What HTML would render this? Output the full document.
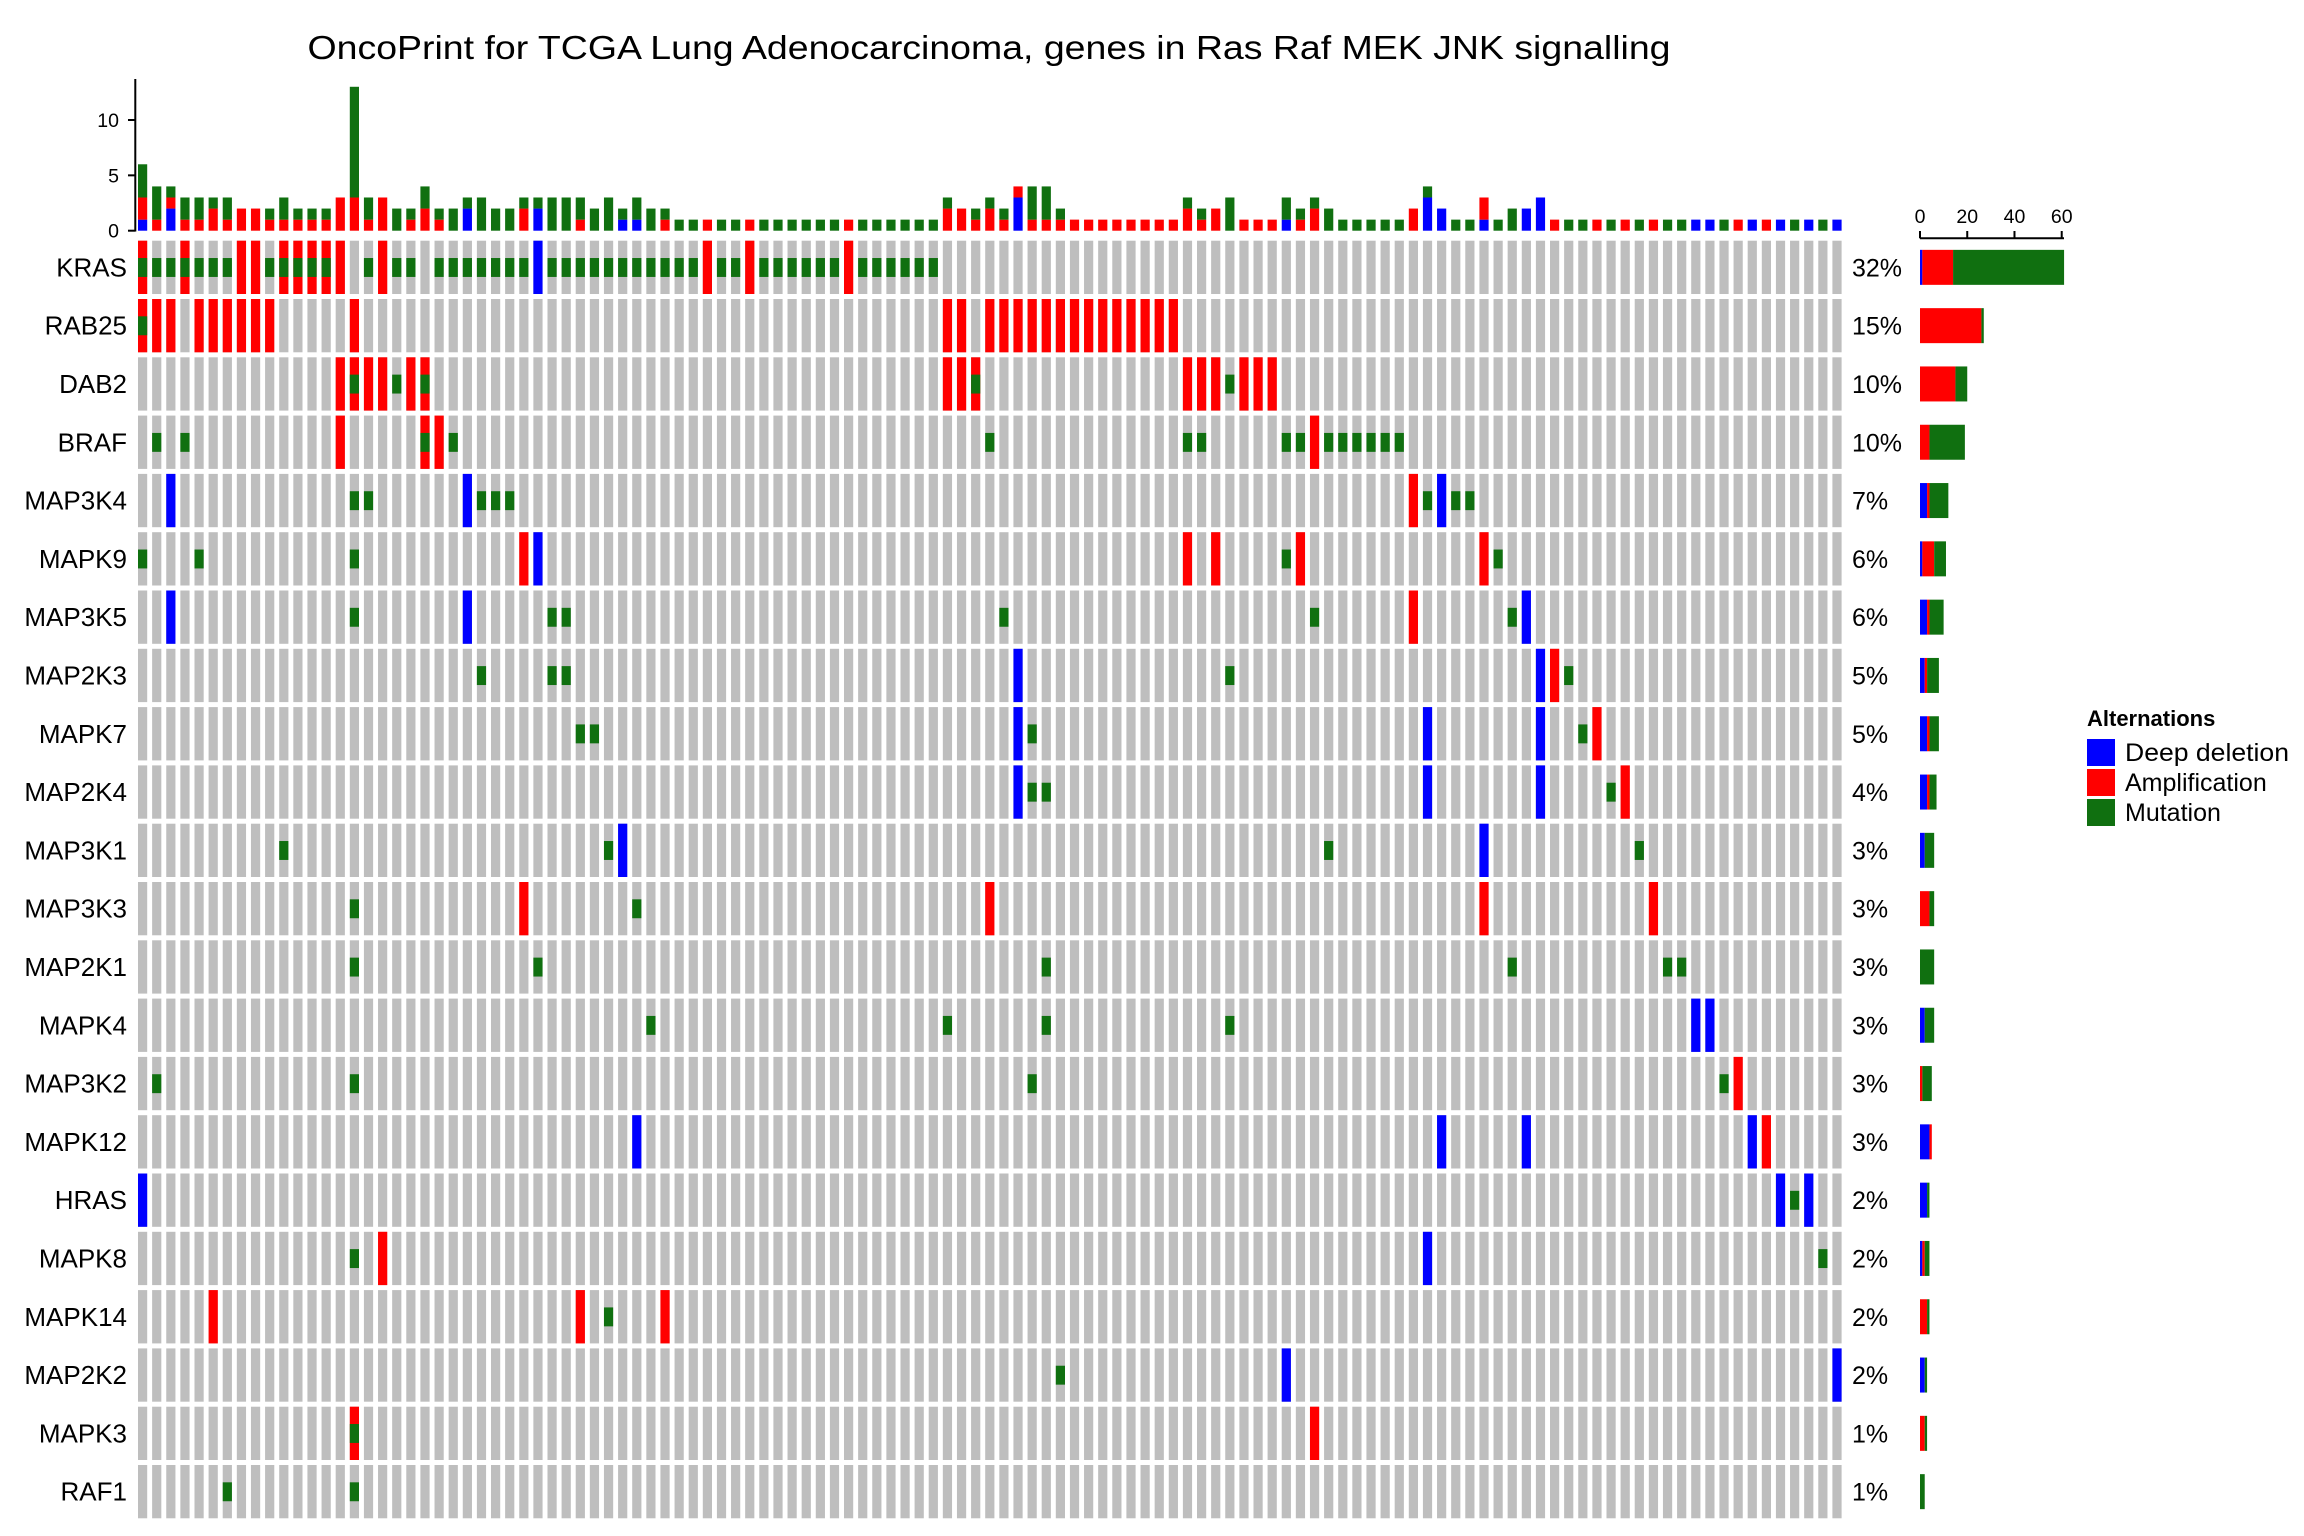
<!DOCTYPE html>
<html><head><meta charset="utf-8">
<style>
html,body{margin:0;padding:0;background:#fff;}
svg{display:block;font-family:"Liberation Sans",Arial,sans-serif;}
</style></head>
<body>
<svg id="c" width="2304" height="1536" viewBox="0 0 2304 1536" xmlns="http://www.w3.org/2000/svg">
<rect width="2304" height="1536" fill="#fff"/>
<text x="989" y="59" font-size="33" text-anchor="middle" textLength="1363" lengthAdjust="spacingAndGlyphs" fill="#000">OncoPrint for TCGA Lung Adenocarcinoma, genes in Ras Raf MEK JNK signalling</text>
<g id="g"></g>
</svg>
<script>
function R(a,b){var r=[];for(var i=a;i<=b;i++)r.push(i);return r;}
var genes=[
["KRAS","32%",{A:[0,3,7,8,10,11,12,13,14,17,40,43,50],D:[28],M:[].concat(R(0,6),R(9,13),[16,18,19],R(21,27),R(29,39),[41,42],R(44,49),R(51,56))}],
["RAB25","15%",{A:[0,1,2].concat(R(4,9),[15,57,58],R(60,73)),D:[],M:[0]}],
["DAB2","10%",{A:[14,15,16,17,19,20,57,58,59,74,75,76,78,79,80],D:[],M:[15,18,20,59,77]}],
["BRAF","10%",{A:[14,20,21,83],D:[],M:[1,3,20,22,60,74,75,81,82].concat(R(84,89))}],
["MAP3K4","7%",{A:[90],D:[2,23,92],M:[15,16,24,25,26,91,93,94]}],
["MAPK9","6%",{A:[27,74,76,82,95],D:[28],M:[0,4,15,81,96]}],
["MAP3K5","6%",{A:[90],D:[2,23,98],M:[15,29,30,61,83,97]}],
["MAP2K3","5%",{A:[100],D:[62,99],M:[24,29,30,77,101]}],
["MAPK7","5%",{A:[103],D:[62,91,99],M:[31,32,63,102]}],
["MAP2K4","4%",{A:[105],D:[62,91,99],M:[63,64,104]}],
["MAP3K1","3%",{A:[],D:[34,95],M:[10,33,84,106]}],
["MAP3K3","3%",{A:[27,60,95,107],D:[],M:[15,35]}],
["MAP2K1","3%",{A:[],D:[],M:[15,28,64,97,108,109]}],
["MAPK4","3%",{A:[],D:[110,111],M:[36,57,64,77]}],
["MAP3K2","3%",{A:[113],D:[],M:[1,15,63,112]}],
["MAPK12","3%",{A:[115],D:[35,92,98,114],M:[]}],
["HRAS","2%",{A:[],D:[0,116,118],M:[117]}],
["MAPK8","2%",{A:[17],D:[91],M:[15,119]}],
["MAPK14","2%",{A:[5,31,37],D:[],M:[33]}],
["MAP2K2","2%",{A:[],D:[81,120],M:[65]}],
["MAPK3","1%",{A:[15,83],D:[],M:[15]}],
["RAF1","1%",{A:[],D:[],M:[6,15]}]
];
var N=121,X0=138,P=14.12,W=9.2,Y0=240.7,RP=58.3,RH=53.3;
var BL="#0000FF",RD="#FF0000",GR="#107010",GY="#BEBEBE";
var s=[];
function rect(x,y,w,h,f){s.push('<rect x="'+x.toFixed(2)+'" y="'+y.toFixed(2)+'" width="'+w.toFixed(2)+'" height="'+h.toFixed(2)+'" fill="'+f+'"/>');}
function text(x,y,t,sz,anc,extra){s.push('<text x="'+x+'" y="'+y+'" font-size="'+sz+'" text-anchor="'+anc+'" fill="#000"'+(extra||'')+'>'+t+'</text>');}
var cD=new Array(N).fill(0),cA=new Array(N).fill(0),cM=new Array(N).fill(0);
genes.forEach(function(g,i){
  var y=Y0+i*RP, d=g[2];
  for(var k=0;k<N;k++){
    var x=X0+k*P;
    rect(x,y,W,RH,GY);
    if(d.A.indexOf(k)>=0){rect(x,y,W,RH,RD);cA[k]++;}
    if(d.D.indexOf(k)>=0){rect(x,y,W,RH,BL);cD[k]++;}
    if(d.M.indexOf(k)>=0){rect(x,y+RH*0.325,W,RH*0.355,GR);cM[k]++;}
  }
  text(127,y+RH/2+9,g[0],26,"end");
  text(1852,y+RH/2+9,g[1],25,"start");
  var u=2.362,bx=1920,by=y+RH/2-17.5,bh=35;
  var nd=d.D.length,na=d.A.length,nm=d.M.length;
  if(nd)rect(bx,by,nd*u,bh,BL); bx+=nd*u;
  if(na)rect(bx,by,na*u,bh,RD); bx+=na*u;
  if(nm)rect(bx,by,nm*u,bh,GR);
});
var U=11.07,B=230.7;
for(var k=0;k<N;k++){
  var x=X0+k*P,y=B;
  if(cD[k]){rect(x,y-cD[k]*U,W,cD[k]*U,BL);y-=cD[k]*U;}
  if(cA[k]){rect(x,y-cA[k]*U,W,cA[k]*U,RD);y-=cA[k]*U;}
  if(cM[k]){rect(x,y-cM[k]*U,W,cM[k]*U,GR);y-=cM[k]*U;}
}
s.push('<line x1="135.3" y1="79" x2="135.3" y2="231.5" stroke="#000" stroke-width="2"/>');
[0,5,10].forEach(function(v){var y=B-v*U;
  s.push('<line x1="128" y1="'+y+'" x2="135.3" y2="'+y+'" stroke="#000" stroke-width="2"/>');
  text(119,y+7,v,19.5,"end");});
s.push('<line x1="1920" y1="238.3" x2="2064" y2="238.3" stroke="#000" stroke-width="2"/>');
[0,20,40,60].forEach(function(v){var x=1920+v*2.362;
  s.push('<line x1="'+x+'" y1="231" x2="'+x+'" y2="238.3" stroke="#000" stroke-width="2"/>');
  text(x,223,v,19.5,"middle");});
text(2087,726,"Alternations",22,"start",' font-weight="bold"');
[["Deep deletion",BL],["Amplification",RD],["Mutation",GR]].forEach(function(e,i){
  var y=739+i*30;
  rect(2087,y,28,27,e[1]);
  text(2125,y+22,e[0],25,"start",i==0?' textLength="164" lengthAdjust="spacingAndGlyphs"':'');
});
document.getElementById("g").innerHTML=s.join("");
</script>
</body></html>
